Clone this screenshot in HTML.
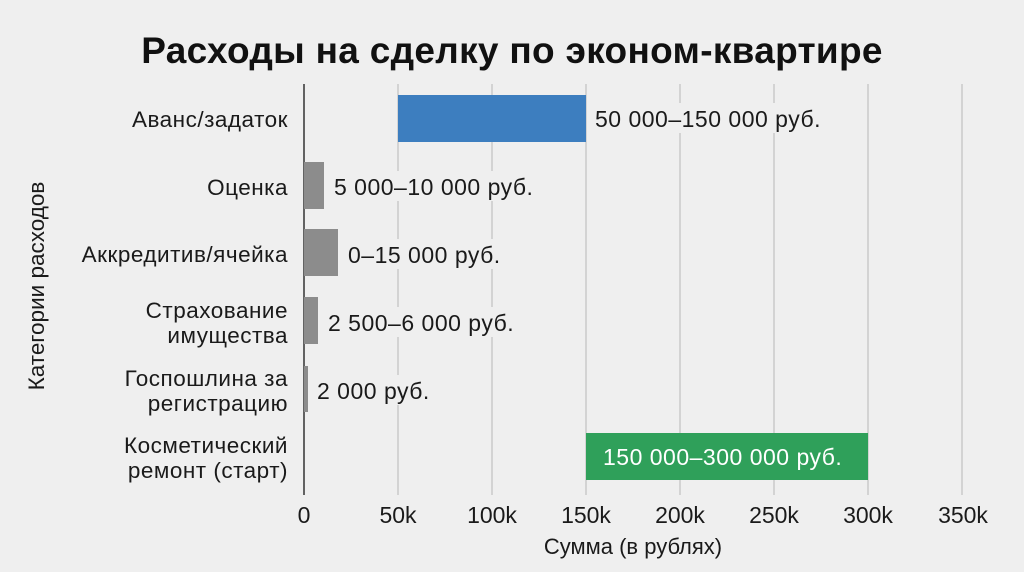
<!DOCTYPE html>
<html><head><meta charset="utf-8"><style>
html,body{margin:0;padding:0;background:#efefef;}
svg{display:block;font-family:"Liberation Sans",sans-serif;}
</style></head><body>
<svg width="1024" height="572" viewBox="0 0 1024 572" xmlns="http://www.w3.org/2000/svg">
<rect width="1024" height="572" fill="#efefef"/>
<text x="512" y="63" text-anchor="middle" font-size="37" font-weight="bold" fill="#111" letter-spacing="0.3">Расходы на сделку по эконом-квартире</text>
<g stroke="#c4c4c4" stroke-width="1.3">
<line x1="398" y1="84" x2="398" y2="495"/>
<line x1="492" y1="84" x2="492" y2="495"/>
<line x1="586" y1="84" x2="586" y2="495"/>
<line x1="680" y1="84" x2="680" y2="495"/>
<line x1="774" y1="84" x2="774" y2="495"/>
<line x1="868" y1="84" x2="868" y2="495"/>
<line x1="962" y1="84" x2="962" y2="495"/>
</g>
<line x1="304" y1="84" x2="304" y2="495" stroke="#333" stroke-width="1.5"/>
<rect x="398" y="95" width="188" height="47" fill="#3d7ebf"/>
<rect x="304" y="162" width="20" height="47" fill="#8c8c8c"/>
<rect x="304" y="229" width="34" height="47" fill="#8c8c8c"/>
<rect x="304" y="297" width="14" height="47" fill="#8c8c8c"/>
<rect x="304" y="366" width="4" height="46" fill="#8c8c8c"/>
<rect x="586" y="433" width="282" height="47" fill="#2fa05a"/>
<g font-size="23" fill="#1a1a1a" letter-spacing="0.5">
<rect x="590" y="103" width="240" height="30" fill="#efefef"/>
<text x="595" y="127">50 000–150 000 руб.</text>
<rect x="330" y="171" width="215" height="30" fill="#efefef"/>
<text x="334" y="195">5 000–10 000 руб.</text>
<rect x="344" y="239" width="160" height="30" fill="#efefef"/>
<text x="348" y="263">0–15 000 руб.</text>
<rect x="324" y="307" width="200" height="30" fill="#efefef"/>
<text x="328" y="331">2 500–6 000 руб.</text>
<rect x="313" y="375" width="125" height="30" fill="#efefef"/>
<text x="317" y="399">2 000 руб.</text>
<text x="603" y="465" fill="#fff">150 000–300 000 руб.</text>
</g>
<g font-size="22.5" fill="#1a1a1a" text-anchor="end" letter-spacing="0.5">
<text x="288" y="127">Аванс/задаток</text>
<text x="288" y="195">Оценка</text>
<text x="288" y="262">Аккредитив/ячейка</text>
<text x="288" y="318">Страхование</text>
<text x="288" y="343">имущества</text>
<text x="288" y="386">Госпошлина за</text>
<text x="288" y="411">регистрацию</text>
<text x="288" y="453">Косметический</text>
<text x="288" y="478">ремонт (старт)</text>
</g>
<g font-size="23" fill="#1a1a1a" text-anchor="middle">
<text x="304" y="523">0</text>
<text x="398" y="523">50k</text>
<text x="492" y="523">100k</text>
<text x="586" y="523">150k</text>
<text x="680" y="523">200k</text>
<text x="774" y="523">250k</text>
<text x="868" y="523">300k</text>
<text x="963" y="523">350k</text>
<text x="633" y="554" font-size="22">Сумма (в рублях)</text>
<text transform="translate(44,286) rotate(-90)" font-size="22.5">Категории расходов</text>
</g>
</svg>
</body></html>
